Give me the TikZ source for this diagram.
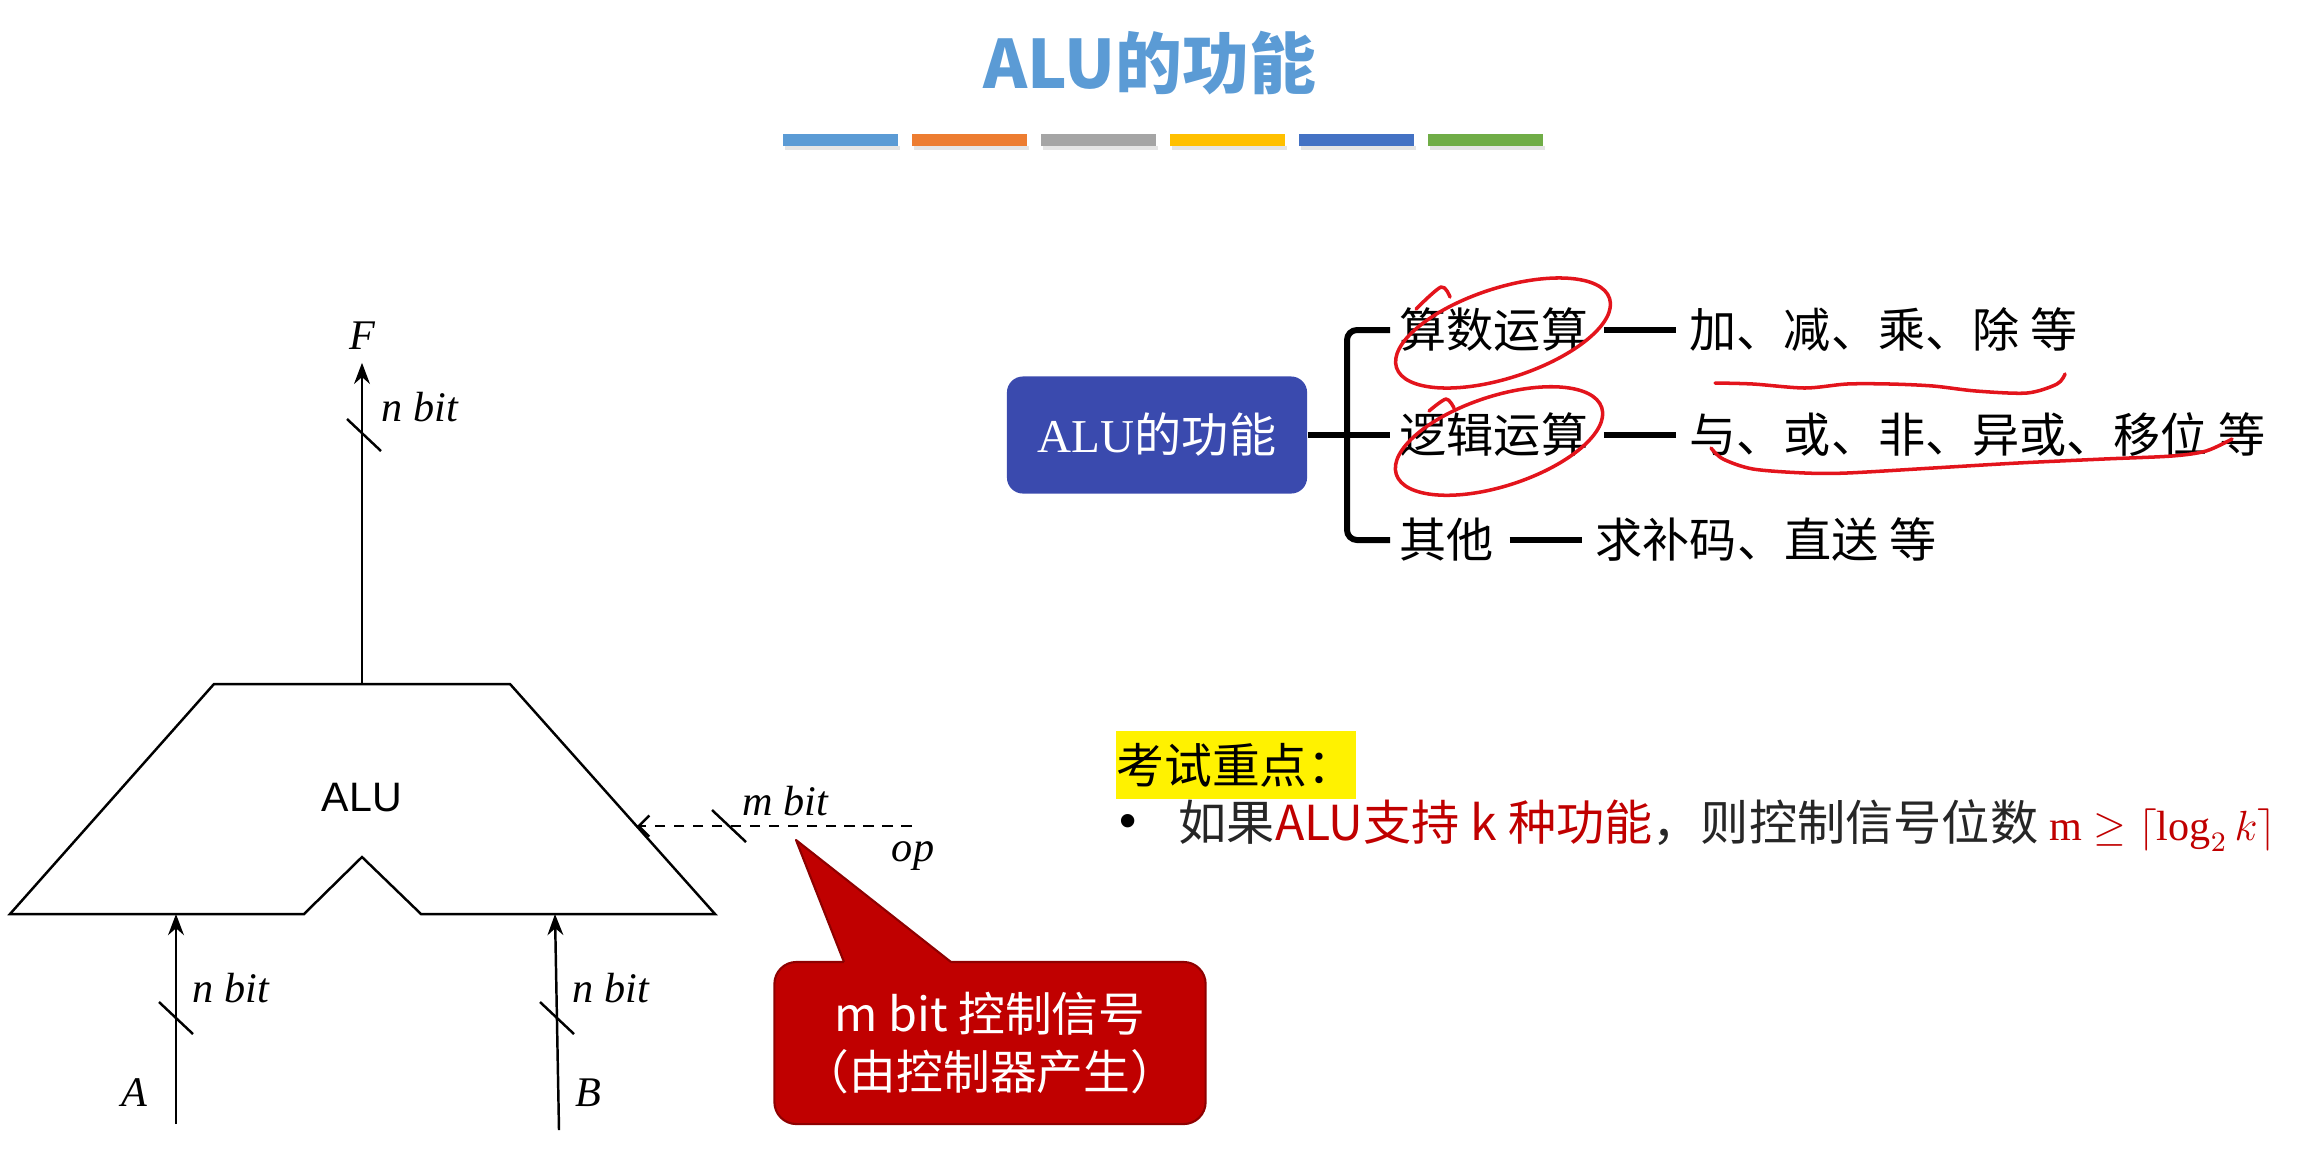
\documentclass[tikz,border=0pt]{standalone}
\usepackage{fontspec}
\setmainfont{Liberation Serif}
\newfontfamily\cjk{Noto Sans CJK SC}
\newfontfamily\helv{Liberation Sans}
\usetikzlibrary{arrows.meta,positioning}

\definecolor{azulT}{HTML}{5B9BD5}
\definecolor{naranja}{HTML}{ED7D31}
\definecolor{gris}{HTML}{A5A5A5}
\definecolor{amarillo}{HTML}{FFC000}
\definecolor{azulO}{HTML}{4472C4}
\definecolor{verde}{HTML}{70AD47}
\definecolor{azulCaja}{HTML}{3A4AAE}
\definecolor{rojoNota}{HTML}{C00000}
\definecolor{rojoBorde}{HTML}{8E0000}
\definecolor{tinta}{HTML}{E3141C}

\tikzset{
  bus/.style={line width=0.7pt,-{Stealth[length=6pt,width=4.5pt]}},
  ctrl/.style={line width=0.7pt,dash pattern=on 3pt off 2.4pt,-{Straight Barb[length=3pt,width=6pt]}},
  lbl/.style={font=\fontsize{12}{14}\selectfont\itshape,inner sep=1pt},
  rama/.style={line width=1.7pt},
  hueco/.style={shorten <=0.15cm,shorten >=0.13cm},
  cat/.style={font=\cjk\fontsize{13.4}{16}\selectfont,anchor=west,inner sep=0pt},
  pluma/.style={draw=tinta,line width=1pt,line cap=round,line join=round},
}

\begin{document}
\begin{tikzpicture}[x=0.01cm,y=-0.01cm]
  \useasboundingbox (0,0) rectangle (2304,1166);

  % Titulo y barras de colores
  \node[font=\cjk\bfseries\fontsize{19}{22}\selectfont,text=azulT] (titulo) at (1150,63) {ALU的功能};
  \foreach \c [count=\i from 0] in {azulT,naranja,gris,amarillo,azulO,verde} {
    \fill[black!10] ({785+129*\i},146) rectangle ++(115,4);
    \fill[\c] ({783+129*\i},134) rectangle ++(115,12);
  }

  % Bloque ALU
  \draw[line width=0.7pt] (10,914) -- (214,684) -- (510,684) -- (715,914)
    -- (421,914) -- (362,857) -- (304,914) -- cycle;
  \node[font=\helv\fontsize{11.7}{14}\selectfont] (alu) at (362,798) {ALU};

  % Salida F
  \coordinate (salida) at (362,684);
  \node[lbl] (F) at (362,336) {F};
  \draw[bus,shorten >=2.5pt] (salida) -- (F.south);
  \coordinate (sF) at (364,435);
  \node[lbl] (nF) at (420,407) {n bit};

  % Entradas A y B
  \coordinate (a0) at (176,1124);
  \coordinate (a1) at (176,914);
  \coordinate (b0) at (559,1130);
  \coordinate (b1) at (555,914);
  \draw[bus] (a0) -- (a1);
  \draw[bus] (b0) -- (b1);
  \coordinate (sA) at (176,1018);
  \coordinate (sB) at (557,1018);
  \node[lbl] (nA) at (231,988) {n bit};
  \node[lbl] (nB) at (611,988) {n bit};
  \node[lbl] (A) at (134,1093) {A};
  \node[lbl] (B) at (588,1093) {B};

  % Control op
  \coordinate (op0) at (912,826);
  \coordinate (opTip) at (637,826);
  \draw[ctrl] (op0) -- (opTip);
  \coordinate (sM) at (729,826);
  \node[lbl] (mbit) at (785,801) {m bit};
  \node[lbl] (op) at (913,856) {op};

  \foreach \s in {sF,sA,sB,sM}
    \draw[line width=0.7pt] (\s) +(-17,-16) -- +(17,16);

  % Nota roja
  \node[fill=rojoNota,draw=rojoBorde,line width=0.6pt,rounded corners=0.22cm,
    minimum width=4.31cm,minimum height=1.62cm,text=white,align=center,
    font=\cjk\fontsize{13.3}{16.5}\selectfont] (nota) at (990,1043)
    {m bit 控制信号\\（由控制器产生）};
  \coordinate (pA) at (844,962);
  \coordinate (pB) at (951,962);
  \coordinate (pT) at (796,840);
  \fill[rojoNota] (pA) -- (pT) -- (pB) -- ([yshift=-0.05cm]pB) -- ([yshift=-0.05cm]pA) -- cycle;
  \draw[rojoBorde,line width=0.6pt,line join=round] (pA) -- (pT) -- (pB);

  % Mapa de funciones
  \node[fill=azulCaja,rounded corners=0.16cm,minimum width=3.0cm,minimum height=1.17cm,
    text=white,font=\fontsize{13.4}{16}\selectfont] (fn) at (1157,435) {ALU{\cjk 的功能}};
  \node[cat] (arit) at (1399,330) {算数运算};
  \node[cat] (logi) at (1399,435) {逻辑运算};
  \node[cat] (otro) at (1399,540) {其他};
  \node[cat] (arit2) at (1689,330) {加、减、乘、除 等};
  \node[cat] (logi2) at (1689,435) {与、或、非、异或、移位 等};
  \node[cat] (otro2) at (1595,540) {求补码、直送 等};
  \coordinate (br) at (1347,435);
  \draw[rama,rounded corners=0.1cm] ([xshift=-0.09cm]arit.west) -| (br) |- ([xshift=-0.09cm]otro.west);
  \draw[rama] (fn.east) -- ([xshift=-0.09cm]logi.west);
  \draw[rama,hueco] (arit) -- (arit2);
  \draw[rama,hueco] (logi) -- (logi2);
  \draw[rama,hueco] (otro) -- (otro2);

  % Marcas a mano
  \draw[pluma,rotate around={18:(1503,333)}] (1503,333) ellipse [x radius=112,y radius=45];
  \draw[pluma,rotate around={18:(1499,441)}] (1499,441) ellipse [x radius=108,y radius=45];
  \draw[pluma] plot[smooth] coordinates {(1416,309) (1441,287) (1450,297)};
  \draw[pluma] plot[smooth] coordinates {(1429,411) (1446,399) (1454,408)};
  \draw[pluma] plot[smooth] coordinates {(1715,383) (1753,384) (1805,388) (1847,384)
    (1890,384) (1933,386) (1976,391) (2027,393) (2057,384) (2065,374)};
  \draw[pluma] plot[smooth] coordinates {(1711,448) (1723,459) (1753,469) (1805,473)
    (1847,473) (1933,468) (2018,463) (2104,459) (2172,456) (2206,451) (2232,439)};

  % Examen
  \node[fill=yellow,inner xsep=0pt,minimum height=0.58cm,
    font=\cjk\fontsize{13.6}{16}\selectfont] (clave) at (1236,765) {考试重点：};
  \node[font=\helv\fontsize{14}{16}\selectfont] (punto) at (1128,826) {•};
  \node[anchor=west,inner sep=0pt,text=black!85,font=\cjk\fontsize{13.7}{16}\selectfont] (regla) at (1178,826)
    {如果\textcolor{rojoNota}{ALU支持 k 种功能}，则控制信号位数 \textcolor{rojoNota}{\fontsize{12}{14}\selectfont$\mathrm{m} \geq \lceil \log_2 k \rceil$}};
\end{tikzpicture}
\end{document}
